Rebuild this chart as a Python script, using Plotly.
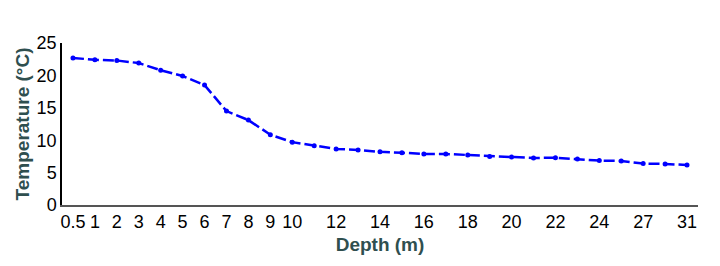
import plotly.graph_objects as go

depth = ["0.5", "1", "2", "3", "4", "5", "6", "7", "8", "9", "10",
         "11", "12", "13", "14", "15", "16", "17", "18", "19", "20",
         "21", "22", "23", "24", "25", "27", "29", "31"]
temperature = [22.7, 22.4, 22.3, 21.9, 20.8, 19.9, 18.5, 14.5, 13.1, 10.85, 9.7,
               9.15, 8.65, 8.5, 8.2, 8.07, 7.87, 7.87, 7.7, 7.5, 7.4,
               7.25, 7.3, 7.1, 6.85, 6.8, 6.4, 6.33, 6.17]
x_tick_labels = ["0.5", "1", "2", "3", "4", "5", "6", "7", "8", "9", "10",
                 "12", "14", "16", "18", "20", "22", "24", "27", "31"]
y_ticks = [0, 5, 10, 15, 20, 25]

fig = go.Figure()
fig.add_trace(go.Scatter(
    x=depth, y=temperature, mode="lines+markers",
    line=dict(color="#0000FF", width=2.5, dash="11px,4px"),
    marker=dict(color="#0000FF", size=5),
    showlegend=False,
))

tick_font = dict(family="Liberation Sans Narrow, Arial Narrow, Liberation Sans, Arial", size=18, color="black")
title_font = dict(family="Liberation Sans, Arial", size=19, color="#2F4F4F")

fig.update_layout(
    width=720, height=266,
    margin=dict(l=62, r=22, t=43, b=61, autoexpand=False),
    plot_bgcolor="white", paper_bgcolor="white",
    xaxis=dict(
        type="category", categoryorder="array", categoryarray=depth,
        range=[-0.5, len(depth) - 0.5],
        tickmode="array", tickvals=x_tick_labels, ticktext=x_tick_labels,
        showgrid=False, zeroline=False, showline=True, linecolor="#555555", linewidth=1.5,
        ticks="", tickfont=tick_font, ticklen=0,
        title=dict(text="<b>Depth (m)</b>", font=title_font, standoff=6),
        automargin=False,
    ),
    yaxis=dict(
        range=[0, 25], tickvals=y_ticks,
        showgrid=False, zeroline=False, showline=True, linecolor="black", linewidth=1.5,
        ticks="", tickfont=tick_font,
        title=dict(text="<b>Temperature (°C)</b>", font=title_font, standoff=2),
        automargin=False,
    ),
)

fig.write_html("out.html")
